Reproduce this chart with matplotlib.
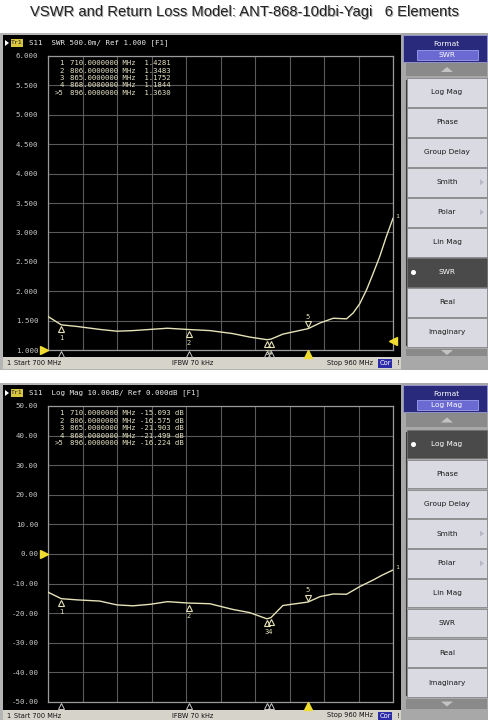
import matplotlib
matplotlib.use('Agg')
import matplotlib.pyplot as plt
from matplotlib.patches import Rectangle, Polygon
from matplotlib.transforms import offset_copy, blended_transform_factory

# ---------------- data ----------------
title = "VSWR and Return Loss Model: ANT-868-10dbi-Yagi   6 Elements"

freq_swr = [700, 710, 722, 739, 752, 764, 777, 790, 806, 822, 839, 852, 865, 868,
            877, 896, 905, 915, 925, 930, 935, 940, 945, 950, 955, 960]
swr = [1.57, 1.4281, 1.40, 1.35, 1.32, 1.33, 1.35, 1.37, 1.3483, 1.33, 1.28, 1.22,
       1.1752, 1.1844, 1.27, 1.3630, 1.46, 1.54, 1.53, 1.63, 1.79, 2.02, 2.30, 2.59,
       2.93, 3.24]

freq_rl = [700, 710, 722, 739, 752, 764, 777, 790, 806, 822, 839, 852, 865, 868,
           877, 896, 905, 915, 925, 935, 945, 952, 960]
rl = [-12.9, -15.093, -15.5, -15.9, -17.2, -17.5, -17.0, -16.1, -16.575, -16.8,
      -18.7, -19.8, -21.903, -21.499, -17.4, -16.224, -14.4, -13.5, -13.6, -11.0,
      -8.8, -7.1, -5.4]

marker_ids = ["1", "2", "3", "4", ">5"]
marker_freq = [710.0, 806.0, 865.0, 868.0, 896.0]
marker_swr = [1.4281, 1.3483, 1.1752, 1.1844, 1.3630]
marker_rl = [-15.093, -16.575, -21.903, -21.499, -16.224]

swr_ticks = [1.0, 1.5, 2.0, 2.5, 3.0, 3.5, 4.0, 4.5, 5.0, 5.5, 6.0]
rl_ticks = [-50, -40, -30, -20, -10, 0, 10, 20, 30, 40, 50]
freq_start, freq_stop = 700, 960

menu_items = ["Log Mag", "Phase", "Group Delay", "Smith", "Polar",
              "Lin Mag", "SWR", "Real", "Imaginary"]

# ---------------- styles ----------------
TRACE = '#e6e2b8'
GRID = '#5a5a5a'
FRAME = '#9a9a9a'
TICKC = '#c4c4c4'
YEL = '#f0dc30'
MONO = 'DejaVu Sans Mono'
SANS = 'DejaVu Sans'

fig = plt.figure(figsize=(4.88, 7.2), dpi=100)
bg = fig.add_axes([0, 0, 1, 1], zorder=0)
bg.set_xlim(0, 488)
bg.set_ylim(720, 0)
bg.axis('off')


def R(x0, y0, x1, y1, fc, ec='none', lw=0.0, z=1):
    bg.add_patch(Rectangle((x0, y0), x1 - x0, y1 - y0, facecolor=fc,
                           edgecolor=ec, linewidth=lw, zorder=z))


bg.text(244, 12, title, ha='center', va='center', fontsize=10.6,
        family='Liberation Sans', color='#aaaaaa', zorder=2,
        transform=offset_copy(bg.transData, fig, x=1, y=-1, units='dots'))
bg.text(244, 12, title, ha='center', va='center', fontsize=10.6,
        family='Liberation Sans', color='#222222', zorder=3)


def panel(ytop, ybot, status_y0, status_y1, header, fmt_name, active,
          fmt_y1, up_y1, btn_y0, btn_h, down_y0, down_y1):
    # outer frame
    R(0, ytop - 2, 488, status_y1 + 1, '#b4b4b4', z=1)
    # screen
    R(3, ytop, 401, status_y0, '#000000', z=2)
    # status bar
    R(3, status_y0, 401, status_y1, '#d6d3cb', z=2)
    sy = (status_y0 + status_y1) / 2
    bg.text(6, sy, "1", fontsize=4.8, family=SANS, va='center', color='#101010', zorder=3)
    bg.text(14, sy, "Start 700 MHz", fontsize=4.8, family=SANS, va='center', color='#101010', zorder=3)
    bg.text(193, sy, "IFBW 70 kHz", fontsize=4.8, family=SANS, va='center', ha='center', color='#101010', zorder=3)
    bg.text(373, sy, "Stop 960 MHz", fontsize=4.8, family=SANS, va='center', ha='right', color='#101010', zorder=3)
    R(378, status_y0 + 1.5, 392, status_y1 - 1.5, '#2c2ca8', z=3)
    bg.text(385, sy, "Cor", fontsize=4.8, family=SANS, va='center', ha='center', color='white', zorder=4)
    bg.text(397, sy, "!", fontsize=4.8, family=SANS, va='center', ha='center', color='#101010', zorder=3)
    # header
    hy = ytop + 8
    bg.add_patch(Polygon([[5, hy - 3], [5, hy + 3], [9, hy]], closed=True,
                         facecolor='white', edgecolor='none', zorder=3))
    R(11, hy - 4, 23, hy + 4, '#d9c640', z=3)
    bg.text(17, hy, "Tr1", fontsize=4.6, family=MONO, va='center', ha='center', color='#202020', zorder=4)
    bg.text(29, hy, header, fontsize=5.4, family=MONO, va='center', ha='left', color='#e8e8e8', zorder=4)
    # right menu
    R(401, ytop - 2, 488, status_y1 + 1, '#a8a8a8', z=2)
    R(403, ytop, 487, fmt_y1, '#2a2a7c', ec='#9a9ad0', lw=0.6, z=3)
    bg.text(446, ytop + 9, "Format", fontsize=5.3, family=SANS, ha='center', va='center', color='white', zorder=4)
    R(417, ytop + 15, 478, fmt_y1 - 2, '#6a6ad2', ec='#b0b0ff', lw=0.5, z=4)
    bg.text(447, (ytop + 15 + fmt_y1 - 2) / 2, fmt_name, fontsize=5.3, family=SANS,
            ha='center', va='center', color='white', zorder=5)
    R(406, fmt_y1 + 1, 487, up_y1, '#8a8a8a', z=3)
    my = (fmt_y1 + 1 + up_y1) / 2
    bg.add_patch(Polygon([[441, my + 2.5], [453, my + 2.5], [447, my - 2.5]], closed=True,
                         facecolor='#c4c4c4', edgecolor='none', zorder=4))
    bg.plot([405.5, 405.5], [btn_y0 + 2, down_y0 - 4], color='#383838', lw=0.8, zorder=4)
    for i, name in enumerate(menu_items):
        y0 = btn_y0 + i * btn_h
        y1 = y0 + btn_h - 1.5
        is_act = (name == active)
        R(407, y0, 487, y1, '#4a4a4a' if is_act else '#dadae2',
          ec='#6a6a6a', lw=0.4, z=3)
        bg.text(447, (y0 + y1) / 2, name, fontsize=5.3, family=SANS, ha='center',
                va='center', color='white' if is_act else '#1a1a1a', zorder=4)
        if is_act:
            bg.plot([413], [(y0 + y1) / 2], marker='o', ms=2.6, color='white', zorder=5)
        if name in ("Smith", "Polar"):
            cy = (y0 + y1) / 2
            bg.add_patch(Polygon([[480, cy - 3], [480, cy + 3], [484, cy]], closed=True,
                                 facecolor='#b8b8c4', edgecolor='none', zorder=4))
    R(406, down_y0, 487, down_y1, '#8a8a8a', z=3)
    dy = (down_y0 + down_y1) / 2
    bg.add_patch(Polygon([[441, dy - 2.5], [453, dy - 2.5], [447, dy + 2.5]], closed=True,
                         facecolor='#c4c4c4', edgecolor='none', zorder=4))


panel(35, 0, 357, 369, "S11  SWR 500.0m/ Ref 1.000 [F1]", "SWR", "SWR",
      62, 76, 78, 30, 349, 356)
panel(385, 0, 710, 721, "S11  Log Mag 10.00dB/ Ref 0.000dB [F1]", "Log Mag", "Log Mag",
      412, 427, 430, 29.8, 699, 709)

# white gap between the two screens
R(0, 371, 488, 383, 'white', z=5)


def data_axes(y_top, y_bot, vals_x, vals_y, ticks, fmt, m_vals, ref_val, right_ref):
    ax = fig.add_axes([48 / 488, 1 - y_bot / 720, 345 / 488, (y_bot - y_top) / 720], zorder=5)
    ax.set_facecolor('none')
    ax.set_xlim(freq_start, freq_stop)
    ax.set_ylim(ticks[0], ticks[-1])
    ax.set_yticks(ticks)
    ax.set_yticklabels([fmt.format(t) for t in ticks], family=MONO, fontsize=5.4, color=TICKC)
    ax.set_xticks([freq_start + k * (freq_stop - freq_start) / 10 for k in range(11)])
    ax.tick_params(axis='x', length=0, labelbottom=False)
    ax.tick_params(axis='y', length=0, pad=7)
    ax.grid(True, color=GRID, lw=0.8)
    for s in ax.spines.values():
        s.set_color(FRAME)
        s.set_linewidth(0.9)
    ax.plot(vals_x, vals_y, color=TRACE, lw=1.0, zorder=3)

    # marker table
    span = ticks[-1] - ticks[0]
    for i, (mid, mf, mv) in enumerate(zip(marker_ids, marker_freq, m_vals)):
        yy = 0.985 - 0.025 * i
        ax.text(0.045, yy, mid, transform=ax.transAxes, family=MONO, fontsize=5.2,
                color='#e8e4c4', ha='right', va='top')
        if fmt == "{:.3f}":
            val = "{:.4f}".format(mv)
            line = "{:.7f} MHz  {}".format(mf, val)
        else:
            line = "{:.7f} MHz {:.3f} dB".format(mf, mv)
        ax.text(0.065, yy, line, transform=ax.transAxes, family=MONO, fontsize=5.2,
                color='#e8e4c4', ha='left', va='top')

    # markers on trace
    down = offset_copy(ax.transData, fig, x=0, y=-4.5, units='dots')
    up = offset_copy(ax.transData, fig, x=0, y=4.5, units='dots')
    for k, (mf, mv) in enumerate(zip(marker_freq, m_vals)):
        if k < 4:
            ax.plot([mf], [mv], marker='^', ms=5, mfc='none', mec=TRACE, mew=0.8,
                    transform=down, clip_on=False, zorder=4)
        else:
            ax.plot([mf], [mv], marker='v', ms=5, mfc='none', mec=TRACE, mew=0.8,
                    transform=up, clip_on=False, zorder=4)
    lab_dn = offset_copy(ax.transData, fig, x=0, y=-13, units='dots')
    lab_up = offset_copy(ax.transData, fig, x=0, y=12, units='dots')
    ax.text(marker_freq[0], m_vals[0], "1", transform=lab_dn, fontsize=5, family=MONO,
            color=TRACE, ha='center', va='center')
    ax.text(marker_freq[1], m_vals[1], "2", transform=lab_dn, fontsize=5, family=MONO,
            color=TRACE, ha='center', va='center')
    ax.text((marker_freq[2] + marker_freq[3]) / 2, min(m_vals[2], m_vals[3]), "34",
            transform=lab_dn, fontsize=5, family=MONO, color=TRACE, ha='center', va='center')
    ax.text(marker_freq[4], m_vals[4], "5", transform=lab_up, fontsize=5, family=MONO,
            color=TRACE, ha='center', va='center')
    # trace end indicator
    ax.text(vals_x[-1], vals_y[-1], "1", transform=offset_copy(ax.transData, fig, x=2, y=2, units='dots'),
            fontsize=4.6, family=MONO, color=TRACE, ha='left', va='center', clip_on=False)

    # x-axis marker triangles
    bt = blended_transform_factory(ax.transData, ax.transAxes)
    for k, mf in enumerate(marker_freq):
        if k < 4:
            ax.plot([mf], [-0.012], marker='^', ms=5, mfc='none', mec='#c8c8c8', mew=0.7,
                    transform=bt, clip_on=False, zorder=4)
        else:
            ax.plot([mf], [-0.012], marker='^', ms=5.5, mfc=YEL, mec=YEL,
                    transform=bt, clip_on=False, zorder=4)
    # reference level triangle
    rt = blended_transform_factory(ax.transAxes, ax.transData)
    ax.plot([-0.012], [ref_val], marker='>', ms=5.5, color=YEL, transform=rt,
            clip_on=False, zorder=4)
    if right_ref:
        ax.plot([1.0], [ref_val + 0.03 * span], marker='<', ms=5.5, color=YEL, transform=rt,
                clip_on=False, zorder=4)
    return ax


data_axes(56, 350, freq_swr, swr, swr_ticks, "{:.3f}", marker_swr, 1.0, True)
data_axes(406, 702, freq_rl, rl, rl_ticks, "{:.2f}", marker_rl, 0.0, False)

fig.savefig('out.png', dpi=100)
